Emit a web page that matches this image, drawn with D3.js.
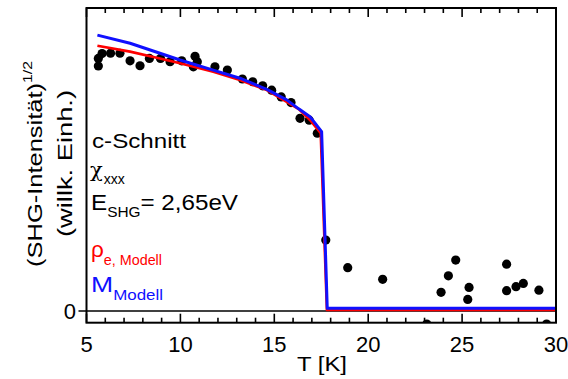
<!DOCTYPE html>
<html><head><meta charset="utf-8">
<script src="https://cdn.jsdelivr.net/npm/d3@7"></script>
<style>
body{margin:0;background:#fff;}
text{font-family:"Liberation Sans",Arial,sans-serif;}
</style></head>
<body><svg id="c" width="568" height="379"></svg>
<script>
// Measured data points: temperature T [K] and sqrt(SHG intensity) [arb. units]
const dataT = [5.63,5.63,5.83,6.28,6.78,7.32,7.85,8.35,8.94,9.45,10.07,10.69,10.78,10.90,11.84,12.50,13.30,13.85,14.38,14.86,15.37,15.89,16.37,16.86,17.29,17.74,18.91,20.77,23.12,23.88,24.27,24.66,25.37,25.30,27.37,27.37,27.87,28.26,29.09,29.50];
const dataV = [0.932,0.904,0.950,0.951,0.951,0.923,0.905,0.932,0.932,0.920,0.923,0.901,0.940,0.920,0.901,0.889,0.856,0.846,0.831,0.815,0.790,0.769,0.711,0.704,0.656,0.262,0.160,0.117,-0.048,0.069,0.130,0.188,0.087,0.043,0.173,0.075,0.090,0.102,0.077,-0.048];
// Model curves
const rhoT = [5.58,7.32,8.91,9.98,11.75,13.17,14.60,15.66,16.30,16.90,17.47,17.80,30.0];
const rhoV = [0.979,0.957,0.932,0.914,0.883,0.852,0.815,0.772,0.745,0.705,0.656,0.004,0.004];
const magT = [5.58,7.32,8.91,9.98,11.75,13.17,14.60,15.66,16.30,16.90,17.52,17.82,30.0];
const magV = [1.018,0.988,0.951,0.926,0.889,0.859,0.818,0.779,0.746,0.717,0.662,0.010,0.010];
const xTicks = [5,10,15,20,25,30];
const yTicks = [0];

const W=568,H=379, m={l:86.5,r:12,t:8,b:56.3};
const svg=d3.select("#c");
const x=d3.scaleLinear().domain([5,30]).range([m.l,W-m.r]);
const y=d3.scaleLinear().domain([-0.043,1.118]).range([H-m.b,m.t]);
const x0=m.l,x1=W-m.r,y0=H-m.b,y1=m.t;

svg.append("defs").append("clipPath").attr("id","cp").append("rect")
  .attr("x",x0).attr("y",y1).attr("width",x1-x0).attr("height",y0-y1);

// zero line
svg.append("line").attr("x1",x0-8).attr("x2",x1).attr("y1",y(0)).attr("y2",y(0))
  .attr("stroke","#000").attr("stroke-width",1.6);

const g=svg.append("g").attr("clip-path","url(#cp)");
g.selectAll("circle").data(dataT.map((t,i)=>[t,dataV[i]])).enter().append("circle")
  .attr("cx",d=>x(d[0])).attr("cy",d=>y(d[1])).attr("r",4.6).attr("fill","#000");

const line=d3.line().x(d=>x(d[0])).y(d=>y(d[1]));
g.append("path").datum(rhoT.map((t,i)=>[t,rhoV[i]])).attr("d",line)
  .attr("fill","none").attr("stroke","#ff0000").attr("stroke-width",2.6).attr("stroke-linejoin","round");
g.append("path").datum(magT.map((t,i)=>[t,magV[i]])).attr("d",line)
  .attr("fill","none").attr("stroke","#1010ff").attr("stroke-width",3).attr("stroke-linejoin","round");

// frame
svg.append("rect").attr("x",x0).attr("y",y1).attr("width",x1-x0).attr("height",y0-y1)
  .attr("fill","none").attr("stroke","#000").attr("stroke-width",2);

// ticks
const minor=d3.range(5,31,1);
minor.forEach(t=>{
  const L = (t%5===0)?9:5;
  svg.append("line").attr("x1",x(t)).attr("x2",x(t)).attr("y1",y0).attr("y2",y0-L).attr("stroke","#000").attr("stroke-width",1.6);
  svg.append("line").attr("x1",x(t)).attr("x2",x(t)).attr("y1",y1).attr("y2",y1+L).attr("stroke","#000").attr("stroke-width",1.6);
});
svg.selectAll(".xl").data(xTicks).enter().append("text")
  .attr("x",d=>x(d)).attr("y",352).attr("text-anchor","middle")
  .attr("font-size",22).text(d=>d);
svg.selectAll(".yl").data(yTicks).enter().append("text")
  .attr("x",76).attr("y",d=>y(d)+8).attr("text-anchor","end")
  .attr("font-size",22).text(d=>d);

const SG="spacingAndGlyphs";
svg.append("text").attr("x",297).attr("y",371).attr("font-size",21)
  .attr("textLength",50).attr("lengthAdjust",SG).text("T [K]");

// y title
const yt=svg.append("text").attr("transform","translate(42,267) rotate(-90)").attr("font-size",21)
  .attr("textLength",206).attr("lengthAdjust",SG);
yt.append("tspan").text("(SHG-Intensität)");
yt.append("tspan").attr("font-size",13).attr("dy",-10).text("1/2");
svg.append("text").attr("transform","translate(72,237) rotate(-90)").attr("font-size",21)
  .attr("textLength",147).attr("lengthAdjust",SG).text("(willk. Einh.)");

// annotations
svg.append("text").attr("x",92).attr("y",148).attr("font-size",21)
  .attr("textLength",94).attr("lengthAdjust",SG).text("c-Schnitt");
const chi=svg.append("text").attr("x",90).attr("y",177).attr("font-size",21);
chi.append("tspan").attr("font-family","DejaVu Serif").text("χ");
chi.append("tspan").attr("font-size",14).attr("dy",7).attr("dx",1).text("xxx");
const e=svg.append("text").attr("x",91).attr("y",210).attr("font-size",22)
  .attr("textLength",147).attr("lengthAdjust",SG);
e.append("tspan").text("E");
e.append("tspan").attr("font-size",14).attr("dy",7).text("SHG");
e.append("tspan").attr("dy",-7).text("= 2,65eV");
const r=svg.append("text").attr("x",91).attr("y",257).attr("font-size",22).attr("fill","#ff0000")
  .attr("textLength",71).attr("lengthAdjust",SG);
r.append("tspan").text("ρ");
r.append("tspan").attr("font-size",14).attr("dy",8).text("e, Modell");
const mm=svg.append("text").attr("x",91).attr("y",292).attr("font-size",22).attr("fill","#1010ff")
  .attr("textLength",72).attr("lengthAdjust",SG);
mm.append("tspan").text("M");
mm.append("tspan").attr("font-size",14).attr("dy",8).text("Modell");
</script></body></html>
